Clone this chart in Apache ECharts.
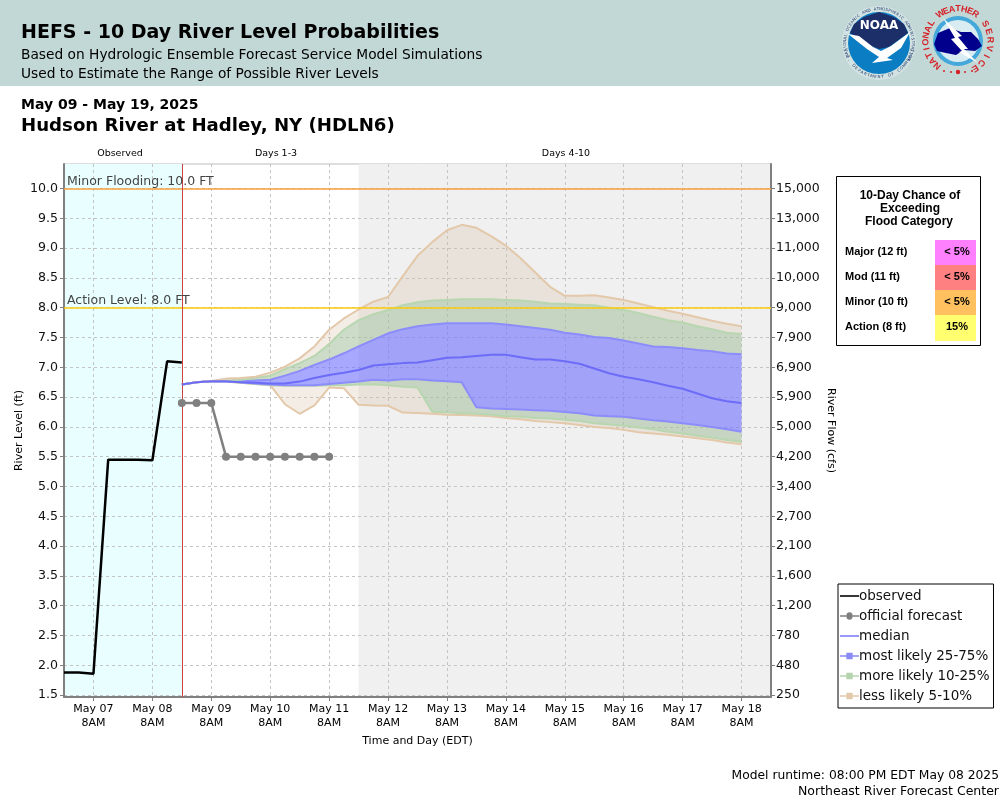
<!DOCTYPE html>
<html><head><meta charset="utf-8"><style>html,body{margin:0;padding:0;background:#fff}#c{width:1000px;height:800px}</style>
<script src="https://cdn.jsdelivr.net/npm/echarts@6/dist/echarts.min.js"></script></head><body><div id="c"></div>
<script>
const days=['May 06','May 07','May 08','May 09','May 10','May 11','May 12','May 13','May 14','May 15','May 16','May 17','May 18'];
const hours=['2AM','8AM','2PM','8PM'];
const categories=['May 06 8PM'];
for(let d=1;d<days.length;d++){for(const h of hours)categories.push(days[d]+' '+h);}
const observed=[1.88,1.88,1.86,5.45,5.45,5.45,5.44,7.10,7.08];
const officialForecast=[6.40,6.40,6.40,5.50,5.50,5.50,5.50,5.50,5.50,5.50,5.50];
const forecastStart=8;
const p05=[6.71,6.75,6.765,6.76,6.74,6.72,6.70,6.38,6.22,6.36,6.66,6.65,6.37,6.36,6.355,6.24,6.235,6.22,6.205,6.20,6.19,6.18,6.15,6.13,6.10,6.08,6.06,6.03,6.00,5.98,5.95,5.91,5.89,5.87,5.84,5.81,5.78,5.74,5.71];
const p10=[6.71,6.75,6.765,6.76,6.74,6.72,6.70,6.69,6.69,6.69,6.70,6.70,6.71,6.71,6.70,6.675,6.66,6.255,6.245,6.23,6.22,6.205,6.18,6.17,6.15,6.14,6.12,6.10,6.06,6.04,6.02,5.99,5.96,5.92,5.89,5.85,5.82,5.78,5.75];
const p25=[6.71,6.75,6.765,6.76,6.75,6.73,6.71,6.70,6.70,6.70,6.72,6.74,6.76,6.79,6.78,6.80,6.80,6.78,6.765,6.75,6.33,6.31,6.30,6.29,6.28,6.27,6.25,6.23,6.19,6.18,6.17,6.14,6.11,6.09,6.06,6.03,6.00,5.96,5.92];
const median=[6.71,6.75,6.765,6.765,6.75,6.74,6.73,6.73,6.76,6.82,6.87,6.91,6.955,7.03,7.05,7.07,7.08,7.12,7.16,7.17,7.19,7.21,7.21,7.17,7.13,7.13,7.10,7.06,6.98,6.90,6.84,6.80,6.75,6.69,6.64,6.56,6.48,6.43,6.40];
const p75=[6.71,6.75,6.77,6.77,6.77,6.78,6.79,6.86,6.94,7.04,7.13,7.235,7.35,7.46,7.57,7.64,7.69,7.72,7.74,7.74,7.74,7.74,7.72,7.69,7.66,7.63,7.58,7.55,7.51,7.49,7.45,7.40,7.35,7.34,7.32,7.29,7.27,7.23,7.22];
const p90=[6.71,6.75,6.77,6.78,6.79,6.82,6.86,6.97,7.07,7.19,7.39,7.63,7.79,7.89,7.96,8.04,8.09,8.12,8.13,8.14,8.14,8.14,8.13,8.12,8.10,8.07,8.06,8.05,8.04,8.00,7.96,7.91,7.85,7.79,7.75,7.69,7.64,7.58,7.56];
const p95=[6.71,6.75,6.77,6.81,6.82,6.84,6.91,7.01,7.15,7.35,7.63,7.82,7.97,8.10,8.18,8.53,8.87,9.10,9.30,9.39,9.34,9.20,9.04,8.83,8.59,8.35,8.20,8.20,8.21,8.17,8.13,8.07,8.01,7.95,7.90,7.84,7.78,7.73,7.69];
const levelTicks=[1.5,2,2.5,3,3.5,4,4.5,5,5.5,6,6.5,7,7.5,8,8.5,9,9.5,10];
const flowLabels=['250','480','780','1,200','1,600','2,100','2,700','3,400','4,200','5,000','5,900','6,900','7,900','9,000','10,000','11,000','13,000','15,000'];
const legendNames=['observed','official forecast','median','most likely 25-75%','more likely 10-25%','less likely 5-10%'];
const floodCategories=['Major (12 ft)','Mod (11 ft)','Minor (10 ft)','Action (8 ft)'];
const floodChances=['< 5%','< 5%','< 5%','15%'];
const floodColors=['#ff80ff','#ff8080','#ffc060','#ffff70'];

const SANS='"DejaVu Sans"', LIB='"Liberation Sans"';
const pad=a=>Array(forecastStart).fill(null).concat(a);
const diff=(hi,lo)=>pad(hi.map((v,i)=>+(v-lo[i]).toFixed(3)));
const isTick=(i)=>(i-2)%4===0;
const TAN='#e3c8aa',GREEN='#b8d6b0',BLUE='#8c8cfa';
const band=(name,data,line,area,alpha)=>({type:'line',name,stack:'b',data,symbol:'none',z:3,silent:true,
  lineStyle:{color:line,width:2,opacity:1},itemStyle:{color:line},
  areaStyle:area?{color:area,opacity:alpha}:undefined});

const chart=echarts.init(document.getElementById('c'),null,{renderer:'canvas'});
const txt=(x,y,text,size,o={})=>({type:'text',x,y,silent:true,style:{text,font:(o.weight||'normal')+' '+size+'px '+(o.family||SANS),fill:o.fill||'#000',textAlign:o.align||'left',textVerticalAlign:'middle'}});

function ring(cx,cy,r,text,startDeg,stepDeg,size,fill,weight,family){
  const out=[];[...text].forEach((ch,i)=>{const a=(startDeg+i*stepDeg)*Math.PI/180;
    out.push({type:'text',x:cx+r*Math.sin(a),y:cy-r*Math.cos(a),rotation:-(a),silent:true,
      style:{text:ch,font:(weight||'normal')+' '+size+'px '+(family||SANS),fill,textAlign:'center',textVerticalAlign:'middle'}});});
  return out;
}
function ringUnder(cx,cy,r,text,centerDeg,stepDeg,size,fill){
  const out=[];const n=text.length;[...text].forEach((ch,i)=>{const d=centerDeg-(i-(n-1)/2)*stepDeg;const a=d*Math.PI/180;
    out.push({type:'text',x:cx+r*Math.sin(a),y:cy-r*Math.cos(a),rotation:-(a)+Math.PI,silent:true,
      style:{text:ch,font:size+'px '+SANS,fill,textAlign:'center',textVerticalAlign:'middle'}});});
  return out;
}
const NX=879,NY=43;
const logoNoaa=[
 {type:'circle',shape:{cx:NX,cy:NY,r:37},style:{fill:'#d3e3e3'},silent:true},
 {type:'circle',shape:{cx:NX,cy:NY,r:31},style:{fill:'#0b7dc3'},silent:true},
 {type:'polygon',shape:{points:[[NX-25,NY-19],[NX-15,NY-26],[NX,NY-31],[NX+15,NY-26],[NX+25,NY-19],[NX+29,NY-10],[NX+10,NY+4],[NX,NY+6],[NX-10,NY+2],[NX-29,NY-10]]},style:{fill:'#1c2f69'},silent:true},
 {type:'polygon',shape:{points:[[NX-31,NY-9],[NX-20,NY-7],[NX-6,NY+4],[NX+2,NY+8],[NX+12,NY+3],[NX+31,NY-11],[NX+22,NY+5],[NX+8,NY+15],[NX+14,NY+17],[NX-7,NY+20],[NX,NY+14],[NX-12,NY+6]]},style:{fill:'#fff'},silent:true},
 txt(NX,NY-17,'NOAA',12,{weight:'bold',fill:'#fff',align:'center'}),
 ...ring(NX,NY,34,'NATIONAL OCEANIC AND ATMOSPHERIC ADMINISTRATION',-112,5,4,'#26406e'),
 ...ringUnder(NX,NY,34,'U.S. DEPARTMENT OF COMMERCE',180,6,4,'#26406e')
];
const WX=958,WY=41;
const logoNws=[
 {type:'circle',shape:{cx:WX,cy:WY,r:25},style:{fill:'#45a8da'},silent:true},
 {type:'circle',shape:{cx:WX,cy:WY,r:21},style:{fill:'#d8ecf2'},silent:true},
 {type:'polygon',shape:{points:[[WX-24,WY+3],[WX-20,WY-8],[WX-8,WY-13],[WX+3,WY-9],[WX+13,WY-9],[WX+20,WY-2],[WX+24,WY+5],[WX+17,WY+10],[WX+6,WY+9],[WX-2,WY+14],[WX-12,WY+12],[WX-21,WY+10]]},style:{fill:'#00008c'},silent:true},
 {type:'polygon',shape:{points:[[WX-15,WY-23],[WX+4,WY-5],[WX,WY-4],[WX+10,WY+8],[WX+6,WY+8],[WX+20,WY+22],[WX+1,WY+11],[WX+4,WY+10],[WX-7,WY-2],[WX-3,WY-3]]},style:{fill:'#fff'},silent:true},
 ...ring(WX,WY,32,'NATIONAL',-140,12,9,'#d62027','bold',LIB),
 ...ring(WX,WY,32,'WEATHER',-33,11,9,'#d62027','bold',LIB),
 ...ring(WX,WY,32,'SERVICE',58,15,9,'#d62027','bold',LIB),
 {type:'circle',shape:{cx:WX-14,cy:WY+30,r:1},style:{fill:'#d62027'},silent:true},
 {type:'circle',shape:{cx:WX-7,cy:WY+31,r:1},style:{fill:'#d62027'},silent:true},
 {type:'circle',shape:{cx:WX,cy:WY+31,r:2.2},style:{fill:'#d62027'},silent:true},
 {type:'circle',shape:{cx:WX+7,cy:WY+31,r:1},style:{fill:'#d62027'},silent:true},
 {type:'circle',shape:{cx:WX+14,cy:WY+30,r:1},style:{fill:'#d62027'},silent:true}
];
const insetRowY=[252,277,302,327],cellTop=[240,265,290,315,341];
const inset=[
 {type:'rect',shape:{x:836.5,y:176.5,width:144,height:169},style:{fill:'#fff',stroke:'#000',lineWidth:1},silent:true},
 txt(910,196,'10-Day Chance of',12,{weight:'bold',family:LIB,align:'center'}),
 txt(910,209,'Exceeding',12,{weight:'bold',family:LIB,align:'center'}),
 txt(909,222,'Flood Category',12,{weight:'bold',family:LIB,align:'center'})
];
floodCategories.forEach((n,i)=>{
 inset.push({type:'rect',shape:{x:935,y:cellTop[i],width:41,height:cellTop[i+1]-cellTop[i]},style:{fill:floodColors[i]},silent:true});
 inset.push(txt(845,insetRowY[i],n,11,{weight:'bold',family:LIB}));
 inset.push(txt(957,insetRowY[i],floodChances[i],11,{weight:'bold',family:LIB,align:'center'}));
});
const LINE_ICON='path://M0 4H24V6H0Z';
const DOT_ICON='path://M0 4.2H8.2A3.6 3.6 0 0 1 15.8 4.2H24V5.8H15.8A3.6 3.6 0 0 1 8.2 5.8H0Z';
const SQ_ICON='path://M0 4.2H8V1H16V4.2H24V5.8H16V9H8V5.8H0Z';
const SQ_SRC=[['#000',LINE_ICON],['#808080',DOT_ICON],['#7d7dfa',LINE_ICON],['#8a8af5',SQ_ICON],['#b5d3ad',SQ_ICON],['#e3c9ac',SQ_ICON]];

const option={
 animation:false,backgroundColor:'#fff',textStyle:{fontFamily:SANS},
 grid:{left:64,right:229,top:164,bottom:103,show:true,borderColor:'#bdbdbd',borderWidth:1,backgroundColor:'transparent',containLabel:false,outerBoundsMode:'none'},
 legend:{orient:'vertical',left:838,top:584,padding:[5,4,5,2],itemGap:6,itemWidth:19,itemHeight:14.2,borderColor:'#000',borderWidth:1,backgroundColor:'#fff',
   textStyle:{fontFamily:SANS,fontSize:13.5,color:'#111',padding:[0,0,0,-5]},selectedMode:false,
   data:legendNames.map((n,i)=>({name:n,icon:SQ_SRC[i][1],itemStyle:{color:SQ_SRC[i][0],borderWidth:0,opacity:1},lineStyle:{width:0}}))},
 xAxis:{type:'category',data:categories,boundaryGap:false,z:2,
   name:'Time and Day (EDT)',nameLocation:'middle',nameGap:39,nameMoveOverlap:false,nameTextStyle:{fontFamily:SANS,fontSize:11,color:'#000'},
   axisLine:{lineStyle:{color:'#808080',width:2}},
   axisTick:{interval:isTick,length:4,lineStyle:{color:'#808080'}},
   axisLabel:{interval:isTick,fontFamily:SANS,fontSize:11,color:'#000',lineHeight:14,margin:5,formatter:v=>v.replace(' 8AM','\n8AM')},
   splitLine:{show:true,interval:isTick,lineStyle:{color:'#c4c4c4',type:[3,3],width:1}}},
 yAxis:[
  {type:'value',min:1.468,max:10.411,z:2,position:'left',
   name:'River Level (ft)',nameLocation:'middle',nameGap:39,nameRotate:90,nameMoveOverlap:false,nameTextStyle:{fontFamily:SANS,fontSize:11,color:'#000'},
   axisLine:{show:true,lineStyle:{color:'#808080',width:2}},
   axisTick:{show:true,customValues:levelTicks,length:4,lineStyle:{color:'#808080'}},
   axisLabel:{customValues:levelTicks,fontFamily:SANS,fontSize:12.6,color:'#111',margin:6,padding:[2,0,0,0],formatter:v=>v.toFixed(1)},
   splitLine:{show:true,lineStyle:{color:'#c4c4c4',type:[3,3],width:1}}},
  {type:'value',min:1.468,max:10.411,z:2,position:'right',
   name:'River Flow (cfs)',nameLocation:'middle',nameGap:54,nameRotate:-90,nameMoveOverlap:false,nameTextStyle:{fontFamily:SANS,fontSize:11,color:'#000'},
   axisLine:{show:true,lineStyle:{color:'#808080',width:2}},
   axisTick:{show:true,customValues:levelTicks,length:4,lineStyle:{color:'#808080'}},
   axisLabel:{customValues:levelTicks,fontFamily:SANS,fontSize:12.5,color:'#111',margin:5,padding:[2,0,0,0],formatter:v=>flowLabels[levelTicks.indexOf(+v.toFixed(1))]||''},
   splitLine:{show:false}}
 ],
 series:[
  {type:'line',name:'background',data:[],z:1,silent:true,symbol:'none',
   markArea:{silent:true,data:[
     [{xAxis:categories[0],itemStyle:{color:'#e9ffff'}},{xAxis:categories[forecastStart]}],
     [{xAxis:categories[20],itemStyle:{color:'#f0f0f0'}},{xAxis:categories[48]}]]}},
  band('p05',diff(p05,p05.map(()=>0)),TAN,null,0),
  band('less likely 5-10%',diff(p10,p05),GREEN,'#d8bfa0',0.28),
  band('more likely 10-25%',diff(p25,p10),BLUE,'#a3bf9b',0.55),
  band('most likely 25-75%',diff(p75,p25),BLUE,'#7272ff',0.62),
  band('more likely 10-25%',diff(p90,p75),GREEN,'#a3bf9b',0.55),
  band('less likely 5-10%',diff(p95,p90),TAN,'#d8bfa0',0.28),
  {type:'line',name:'observed',data:observed,symbol:'none',z:6,lineStyle:{color:'#000',width:2.5},itemStyle:{color:'#000'}},
  {type:'line',name:'official forecast',data:pad(officialForecast),symbol:'circle',symbolSize:8,z:6,lineStyle:{color:'#808080',width:2.5},itemStyle:{color:'#808080'}},
  {type:'line',name:'median',data:pad(median),symbol:'none',z:5,lineStyle:{color:'#6c6cf8',width:2},itemStyle:{color:'#6c6cf8'},
   markLine:{silent:true,symbol:'none',animation:false,data:[
     {yAxis:10,lineStyle:{color:'#f7a13c',width:1.5,type:'solid'},label:{show:true,formatter:'Minor Flooding: 10.0 FT',position:'insideStartTop',distance:[3,0],fontFamily:SANS,fontSize:12.5,color:'#444'}},
     {yAxis:8,lineStyle:{color:'#fccb0a',width:1.5,type:'solid'},label:{show:true,formatter:'Action Level: 8.0 FT',position:'insideStartTop',distance:[3,0],fontFamily:SANS,fontSize:12.5,color:'#444'}},
     {xAxis:categories[forecastStart],lineStyle:{color:'#d04040',width:1,type:'solid'},label:{show:false}}
   ]}}
 ],
 graphic:{elements:[
  {type:'rect',shape:{x:0,y:0,width:1000,height:86},style:{fill:'#c2d8d6'},silent:true},
  txt(21,33,'HEFS - 10 Day River Level Probabilities',19,{weight:'bold'}),
  txt(21,55,'Based on Hydrologic Ensemble Forecast Service Model Simulations',13.75),
  txt(21,74,'Used to Estimate the Range of Possible River Levels',13.75),
  txt(21,105.5,'May 09 - May 19, 2025',14,{weight:'bold'}),
  txt(21,126.5,'Hudson River at Hadley, NY (HDLN6)',18.15,{weight:'bold'}),
  txt(120,154,'Observed',9.5,{align:'center'}),
  txt(276,154,'Days 1-3',9.5,{align:'center'}),
  txt(566,154,'Days 4-10',9.5,{align:'center'}),
  txt(999,776,'Model runtime: 08:00 PM EDT May 08 2025',12.3,{align:'right'}),
  txt(999,792,'Northeast River Forecast Center',12.5,{align:'right'}),
  ...logoNoaa,...logoNws,...inset
 ]}
};
chart.setOption(option);
</script></body></html>
